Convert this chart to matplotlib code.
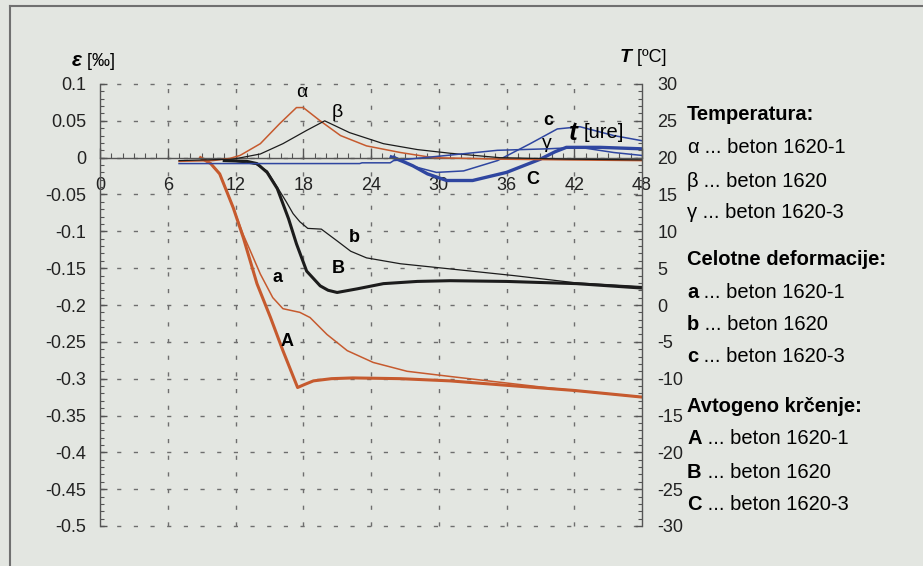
import matplotlib.pyplot as plt
from matplotlib.ticker import MultipleLocator
from matplotlib.lines import Line2D

plt.rcParams['font.family'] = ['Liberation Sans', 'DejaVu Sans']
plt.rcParams['axes.unicode_minus'] = False
plt.rcParams['lines.solid_joinstyle'] = 'round'

BG = '#e3e6e1'
ORANGE = '#c65a2e'
BLUE = '#2f46a0'
BLACK = '#1c1c1c'
GRID = '#6e6e6e'
SPINE = '#555555'

############################## axis ticks ##############################
t_ticks = [0, 6, 12, 18, 24, 30, 36, 42, 48]
eps_ticks = [0.1, 0.05, 0, -0.05, -0.1, -0.15, -0.2, -0.25, -0.3, -0.35, -0.4, -0.45, -0.5]
eps_labels = ['0.1', '0.05', '0', '-0.05', '-0.1', '-0.15', '-0.2', '-0.25', '-0.3', '-0.35', '-0.4', '-0.45', '-0.5']
T_ticks = [30, 25, 20, 15, 10, 5, 0, -5, -10, -15, -20, -25, -30]
T_labels = ['30', '25', '20', '15', '10', '5', '0', '-5', '-10', '-15', '-20', '-25', '-30']

############################## avtogeno krcenje (A, B, C) ##############################
t_A = [8.9, 9.8, 10.6, 11.8, 12.7, 13.9, 15.1, 16.2, 17.5, 18.1, 18.9, 20.5, 22.4, 26.6, 31.0, 36.0, 42.0, 48.0]
eps_A = [0.0, -0.008, -0.022, -0.068, -0.109, -0.171, -0.217, -0.262, -0.312, -0.308, -0.303, -0.300, -0.299, -0.300, -0.303, -0.309, -0.316, -0.325]

t_B = [11.0, 13.0, 13.9, 14.8, 15.7, 16.7, 17.4, 18.3, 19.5, 20.2, 21.0, 22.8, 25.1, 28.1, 31.0, 36.0, 42.2, 48.0]
eps_B = [-0.004, -0.005, -0.008, -0.020, -0.042, -0.083, -0.117, -0.154, -0.174, -0.180, -0.183, -0.178, -0.171, -0.168, -0.167, -0.168, -0.171, -0.177]

t_C = [25.8, 26.8, 27.7, 29.0, 30.7, 33.0, 36.0, 39.0, 40.3, 41.3, 44.3, 48.0]
eps_C = [0.001, -0.005, -0.011, -0.022, -0.031, -0.031, -0.020, -0.002, 0.008, 0.014, 0.014, 0.012]

############################## celotne deformacije (a, b, c) ##############################
t_a = [8.9, 9.8, 10.6, 11.8, 12.7, 13.3, 14.2, 15.3, 16.2, 17.7, 18.6, 20.1, 21.9, 24.2, 27.2, 31.0, 35.5, 40.0, 44.0, 48.0]
eps_a = [0.0, -0.008, -0.022, -0.068, -0.105, -0.126, -0.158, -0.190, -0.205, -0.210, -0.217, -0.240, -0.262, -0.278, -0.290, -0.297, -0.305, -0.313, -0.319, -0.325]

t_b = [12.0, 13.8, 14.8, 15.9, 16.5, 17.1, 17.7, 18.4, 19.6, 21.0, 22.2, 23.6, 26.6, 31.0, 36.6, 42.2, 48.0]
eps_b = [-0.005, -0.009, -0.018, -0.045, -0.060, -0.076, -0.087, -0.096, -0.097, -0.113, -0.127, -0.136, -0.144, -0.151, -0.160, -0.170, -0.175]

t_c = [26.0, 27.8, 29.8, 32.2, 35.2, 38.1, 40.5, 42.5, 45.5, 48.0]
eps_c = [0.002, -0.012, -0.020, -0.018, -0.004, 0.019, 0.039, 0.042, 0.030, 0.023]

############################## temperatura (alpha, beta, gamma) ##############################
t_alpha = [7.0, 10.0, 11.5, 12.4, 14.2, 15.9, 17.4, 18.0, 19.5, 21.3, 23.6, 26.6, 29.5, 35.4, 41.3, 48.0]
T_alpha = [19.5, 19.6, 19.9, 20.3, 21.9, 24.6, 26.8, 26.8, 25.0, 23.0, 21.6, 20.7, 20.0, 19.8, 19.7, 19.6]

t_beta = [7.0, 11.8, 14.2, 16.2, 18.3, 19.9, 22.1, 25.1, 28.1, 31.0, 35.4, 41.3, 48.0]
T_beta = [19.6, 19.8, 20.5, 21.9, 23.7, 25.0, 23.4, 21.9, 21.1, 20.6, 20.0, 19.8, 19.7]

t_gamma = [7.0, 23.0, 23.2, 25.7, 26.0, 30.7, 35.2, 39.6, 42.5, 45.5, 48.0]
T_gamma = [19.2, 19.2, 19.3, 19.3, 19.6, 20.3, 21.0, 21.2, 21.4, 20.7, 20.3]

############################## figure ##############################
fig = plt.figure(figsize=(9.23, 5.66), dpi=100, facecolor=BG)
ax = fig.add_axes([100/923, 1-526/566, 542/923, 442/566])
ax.set_facecolor('none')
ax2 = ax.twinx()
ax2.set_facecolor('none')

ax.set_xlim(0, 48)
ax.set_ylim(-0.5, 0.1)
ax2.set_ylim(-30, 30)

# dashed grid
for v in eps_ticks:
    ax.axhline(v, color=GRID, lw=1, ls=(0, (3, 9)), clip_on=False, zorder=0)
for v in t_ticks[1:-1]:
    ax.axvline(v, color=GRID, lw=1, ls=(0, (3, 9)), clip_on=False, zorder=0)

# deformations on the left axis
ax.plot(t_A, eps_A, color=ORANGE, lw=2.2)
ax.plot(t_a, eps_a, color=ORANGE, lw=1.1)
ax.plot(t_B, eps_B, color=BLACK, lw=2.2)
ax.plot(t_b, eps_b, color=BLACK, lw=0.9)
ax.plot(t_C, eps_C, color=BLUE, lw=2.4)
ax.plot(t_c, eps_c, color=BLUE, lw=1.1)

# temperatures on the right axis
ax2.plot(t_alpha, T_alpha, color=ORANGE, lw=1.1)
ax2.plot(t_beta, T_beta, color=BLACK, lw=0.9)
ax2.plot(t_gamma, T_gamma, color=BLUE, lw=1.1)

# spines
ax.spines['top'].set_visible(False)
ax.spines['right'].set_visible(False)
ax.spines['bottom'].set_position(('data', 0))
for s in ['left', 'top', 'bottom']:
    ax2.spines[s].set_visible(False)
for sp in [ax.spines['left'], ax.spines['bottom'], ax2.spines['right']]:
    sp.set_color(SPINE)
    sp.set_linewidth(1.0)

ax.set_xticks(t_ticks)
ax.set_xticklabels([str(v) for v in t_ticks])
ax.xaxis.set_minor_locator(MultipleLocator(1))
ax.set_yticks(eps_ticks)
ax.set_yticklabels(eps_labels)
ax.yaxis.set_minor_locator(MultipleLocator(0.01))
ax2.set_yticks(T_ticks)
ax2.set_yticklabels(T_labels)
ax2.yaxis.set_minor_locator(MultipleLocator(1))

ax.tick_params(axis='x', which='major', direction='in', length=7, width=1, color=SPINE, pad=14, labelsize=13, labelcolor='#222222')
ax.tick_params(axis='x', which='minor', direction='in', length=3.5, width=0.8, color=SPINE)
ax.tick_params(axis='y', which='major', direction='in', length=5, width=1, color=SPINE, pad=10, labelsize=13, labelcolor='#222222')
ax.tick_params(axis='y', which='minor', direction='in', length=3, width=0.8, color=SPINE)
ax2.tick_params(axis='y', which='major', direction='in', length=5, width=1, color=SPINE, pad=11, labelsize=13, labelcolor='#222222')
ax2.tick_params(axis='y', which='minor', direction='in', length=3, width=0.8, color=SPINE)

# curve names
ax.text(17.9, 0.088, 'α', fontsize=14, ha='center', va='center')
ax.text(21.0, 0.061, 'β', fontsize=14, ha='center', va='center')
ax.text(39.6, 0.019, 'γ', fontsize=14, ha='center', va='center')
ax.text(39.7, 0.050, 'c', fontsize=13, fontweight='bold', ha='center', va='center')
ax.text(38.3, -0.029, 'C', fontsize=13, fontweight='bold', ha='center', va='center')
ax.text(22.5, -0.109, 'b', fontsize=13, fontweight='bold', ha='center', va='center')
ax.text(21.1, -0.150, 'B', fontsize=13, fontweight='bold', ha='center', va='center')
ax.text(15.7, -0.162, 'a', fontsize=13, fontweight='bold', ha='center', va='center')
ax.text(16.6, -0.250, 'A', fontsize=13, fontweight='bold', ha='center', va='center')
ax.text(41.9, 0.034, 't', fontsize=19, fontweight='bold', style='italic', ha='center', va='center')
ax.text(42.8, 0.034, '[ure]', fontsize=14.5, ha='left', va='center')

# axis titles
e1 = fig.text(72/923, 1-60/566, 'ε', fontsize=15, fontweight='bold', style='italic', va='center')
ax.annotate(' [‰]', xy=(1, 0), xycoords=e1, fontsize=13, va='bottom', annotation_clip=False)
T1 = fig.text(620/923, 1-57/566, 'T', fontsize=14, fontweight='bold', style='italic', va='center')
ax.annotate(' [ºC]', xy=(1, 0), xycoords=T1, fontsize=13, va='bottom', annotation_clip=False)

############################## legend block ##############################
LX = 687/923
fig.text(LX, 1-115/566, 'Temperatura:', fontsize=14.5, fontweight='bold', va='center')
fig.text(LX, 1-260/566, 'Celotne deformacije:', fontsize=14.5, fontweight='bold', va='center')
fig.text(LX, 1-407/566, 'Avtogeno krčenje:', fontsize=14.5, fontweight='bold', va='center')
rows = [(147, 'α', 'normal', '1620-1'), (181, 'β', 'normal', '1620'), (213, 'γ', 'normal', '1620-3'),
        (293, 'a', 'bold', '1620-1'), (325, 'b', 'bold', '1620'), (357, 'c', 'bold', '1620-3'),
        (439, 'A', 'bold', '1620-1'), (472, 'B', 'bold', '1620'), (504, 'C', 'bold', '1620-3')]
for y, sym, w, name in rows:
    s = fig.text(LX, 1-y/566, sym, fontsize=14.5, fontweight=w, va='center')
    ax.annotate(' ... beton ' + name, xy=(1, 0), xycoords=s, fontsize=14.5, va='bottom', annotation_clip=False)

# outer frame
fig.add_artist(Line2D([10/923, 1], [1-6/566, 1-6/566], transform=fig.transFigure, color='#707070', lw=1.5))
fig.add_artist(Line2D([10/923, 10/923], [0, 1-6/566], transform=fig.transFigure, color='#707070', lw=1.5))

plt.savefig('out.png', dpi=100, facecolor=BG)
